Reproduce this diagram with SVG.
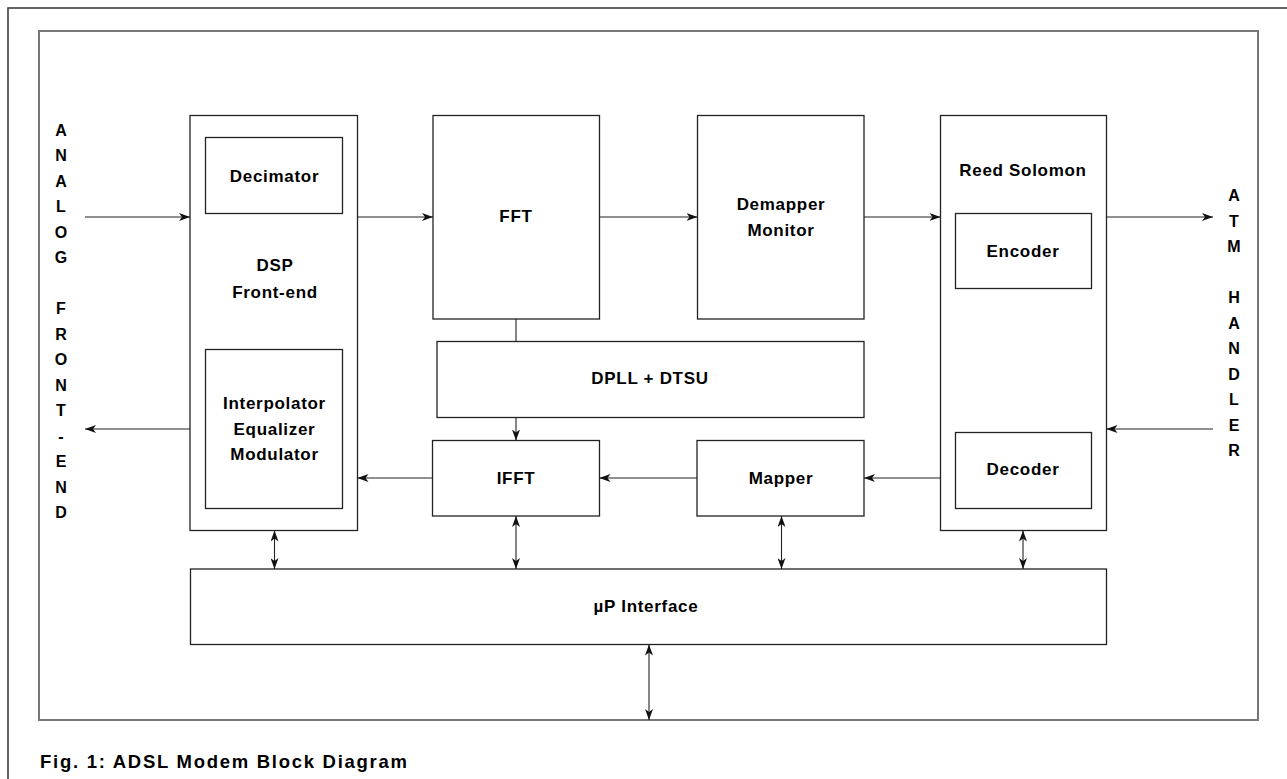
<svg xmlns="http://www.w3.org/2000/svg" width="1287" height="779" viewBox="0 0 1287 779">
<style>
.box{fill:#fff;stroke:#222;stroke-width:1.3}
.frame{fill:none;stroke:#777;stroke-width:2}
.c{fill:none;stroke:#222;stroke-width:1.1}
.t{font-family:"Liberation Sans",Arial,sans-serif;font-weight:bold;font-size:17px;letter-spacing:0.7px;text-anchor:middle;fill:#000}
.v{font-family:"Liberation Sans",Arial,sans-serif;font-weight:bold;font-size:16px;text-anchor:middle;fill:#000}
</style>
<defs>
<marker id="ah" viewBox="0 0 11 8" refX="11" refY="4" markerWidth="11" markerHeight="8" markerUnits="userSpaceOnUse" orient="auto-start-reverse">
<path d="M0,0 L11,4 L0,8 L3,4 z" fill="#111"/>
</marker>
</defs>
<rect width="1287" height="779" fill="#fff"/>
<path d="M8,779 V8 H1287" fill="none" stroke="#333" stroke-width="1.5"/>
<rect class="frame" x="39" y="31" width="1219" height="689"/>

<g id="analog-front-end">
<text class="v" x="61" y="135.5">A</text>
<text class="v" x="61" y="161">N</text>
<text class="v" x="61" y="186.5">A</text>
<text class="v" x="61" y="212">L</text>
<text class="v" x="61" y="237.5">O</text>
<text class="v" x="61" y="263">G</text>
<text class="v" x="61" y="314">F</text>
<text class="v" x="61" y="339.5">R</text>
<text class="v" x="61" y="365">O</text>
<text class="v" x="61" y="390.5">N</text>
<text class="v" x="61" y="416">T</text>
<text class="v" x="61" y="441.5">-</text>
<text class="v" x="61" y="467">E</text>
<text class="v" x="61" y="492.5">N</text>
<text class="v" x="61" y="518">D</text>
</g>

<g id="atm-handler">
<text class="v" x="1234" y="201">A</text>
<text class="v" x="1234" y="226.5">T</text>
<text class="v" x="1234" y="252">M</text>
<text class="v" x="1234" y="303">H</text>
<text class="v" x="1234" y="328.5">A</text>
<text class="v" x="1234" y="354">N</text>
<text class="v" x="1234" y="379.5">D</text>
<text class="v" x="1234" y="405">L</text>
<text class="v" x="1234" y="430.5">E</text>
<text class="v" x="1234" y="456">R</text>
</g>

<g id="dsp-front-end">
<rect class="box" x="190" y="115.5" width="167.5" height="415"/>
<text class="t" x="275" y="271">DSP</text>
<text class="t" x="275" y="298">Front-end</text>
</g>
<g id="decimator">
<rect class="box" x="205.5" y="137.5" width="137" height="76"/>
<text class="t" x="274.5" y="181.5">Decimator</text>
</g>
<g id="interpolator">
<rect class="box" x="205.5" y="349.5" width="137" height="159"/>
<text class="t" x="274.5" y="409">Interpolator</text>
<text class="t" x="274.5" y="435">Equalizer</text>
<text class="t" x="274.5" y="460">Modulator</text>
</g>

<g id="fft">
<rect class="box" x="433" y="115.5" width="166.5" height="203.5"/>
<text class="t" x="516" y="222">FFT</text>
</g>
<g id="demapper">
<rect class="box" x="697.5" y="115.5" width="166.5" height="203.5"/>
<text class="t" x="781" y="210">Demapper</text>
<text class="t" x="781" y="236">Monitor</text>
</g>
<g id="dpll">
<rect class="box" x="437" y="341.5" width="427" height="76"/>
<text class="t" x="650" y="384">DPLL + DTSU</text>
</g>
<g id="reed-solomon">
<rect class="box" x="940.5" y="115.5" width="166" height="415"/>
<text class="t" x="1023" y="176">Reed Solomon</text>
</g>
<g id="encoder">
<rect class="box" x="955.5" y="213.5" width="136" height="75"/>
<text class="t" x="1023" y="256.5">Encoder</text>
</g>
<g id="decoder">
<rect class="box" x="955.5" y="432.5" width="136" height="76"/>
<text class="t" x="1023" y="475">Decoder</text>
</g>
<g id="ifft">
<rect class="box" x="432.5" y="440.5" width="167" height="75.5"/>
<text class="t" x="516" y="484">IFFT</text>
</g>
<g id="mapper">
<rect class="box" x="697" y="440.5" width="167" height="75.5"/>
<text class="t" x="781" y="484">Mapper</text>
</g>
<g id="up-interface">
<rect class="box" x="190.5" y="569" width="916" height="75.5"/>
<text class="t" x="646" y="612">µP Interface</text>
</g>

<g id="connectors">
<line class="c" x1="85" y1="217" x2="190" y2="217" marker-end="url(#ah)"/>
<line class="c" x1="357.5" y1="217" x2="433" y2="217" marker-end="url(#ah)"/>
<line class="c" x1="599.5" y1="217" x2="697.5" y2="217" marker-end="url(#ah)"/>
<line class="c" x1="864" y1="217" x2="940.5" y2="217" marker-end="url(#ah)"/>
<line class="c" x1="1106.5" y1="217" x2="1213" y2="217" marker-end="url(#ah)"/>
<line class="c" x1="1213" y1="429" x2="1106.5" y2="429" marker-end="url(#ah)"/>
<line class="c" x1="190" y1="429" x2="85" y2="429" marker-end="url(#ah)"/>
<line class="c" x1="516" y1="319" x2="516" y2="341.5"/>
<line class="c" x1="516" y1="417.5" x2="516" y2="440.5" marker-end="url(#ah)"/>
<line class="c" x1="432.5" y1="478" x2="357.5" y2="478" marker-end="url(#ah)"/>
<line class="c" x1="697" y1="478" x2="599.5" y2="478" marker-end="url(#ah)"/>
<line class="c" x1="940.5" y1="478" x2="864" y2="478" marker-end="url(#ah)"/>
<line class="c" x1="274.5" y1="530.5" x2="274.5" y2="569" marker-start="url(#ah)" marker-end="url(#ah)"/>
<line class="c" x1="516" y1="516" x2="516" y2="569" marker-start="url(#ah)" marker-end="url(#ah)"/>
<line class="c" x1="781.5" y1="516" x2="781.5" y2="569" marker-start="url(#ah)" marker-end="url(#ah)"/>
<line class="c" x1="1023" y1="530.5" x2="1023" y2="569" marker-start="url(#ah)" marker-end="url(#ah)"/>
<line class="c" x1="649" y1="644.5" x2="649" y2="720" marker-start="url(#ah)" marker-end="url(#ah)"/>
</g>

<text x="40" y="768" font-family="'Liberation Sans',Arial,sans-serif" font-weight="bold" font-size="18.5" textLength="367" lengthAdjust="spacing" fill="#000">Fig. 1: ADSL Modem Block Diagram</text>
</svg>
